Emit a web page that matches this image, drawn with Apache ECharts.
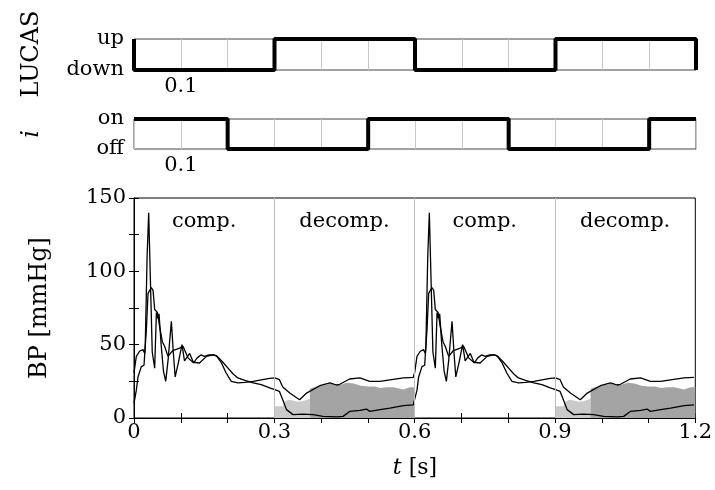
<!DOCTYPE html>
<html>
<head>
<meta charset="utf-8">
<script src="https://cdn.jsdelivr.net/npm/echarts@6/dist/echarts.min.js"></script>
<style>
  html, body { margin: 0; padding: 0; background: #fff; }
  #main { width: 715px; height: 490px; }
</style>
</head>
<body>
<div id="main"></div>
<script>
// LUCAS piston state (1 = up, 0 = down), drawn as a step line
var lucasT = [0, 0, 0.3, 0.6, 0.9, 1.2];
var lucasS = [1, 0, 1, 0, 1, 0];

// current i (1 = on, 0 = off)
var curT = [0, 0.2, 0.5, 0.8, 1.1, 1.2];
var curS = [1, 0, 1, 0, 1, 1];

// the BP record shows the same 0.6 s cycle twice
var cycleStarts = [0, 0.6];

// trace with the big spike (goes near 0 in decompression)
var traceAT = [0, 0.005, 0.0085, 0.0157, 0.0214, 0.024, 0.028, 0.0314, 0.035, 0.039, 0.0442, 0.0479, 0.051, 0.0535, 0.058, 0.063, 0.0678, 0.073, 0.0799, 0.084, 0.088, 0.095, 0.1025, 0.108, 0.119, 0.1275, 0.135, 0.143, 0.151, 0.16, 0.17, 0.178, 0.19, 0.201, 0.212, 0.222, 0.237, 0.255, 0.272, 0.29, 0.301, 0.311, 0.318, 0.326, 0.34, 0.361, 0.383, 0.404, 0.433, 0.447, 0.461, 0.483, 0.497, 0.504, 0.526, 0.547, 0.576, 0.597];
var traceAV = [10, 19, 28, 35, 36, 49, 110, 140, 95, 45, 34, 72, 68, 71, 50, 32, 25, 40, 66, 45, 28, 38, 50, 39, 44, 37.5, 41, 43, 42, 43, 43, 42, 38, 34, 30, 27.3, 25.6, 24, 22.7, 20.5, 19.3, 18.1, 12.5, 5.7, 2.3, 2.6, 2.3, 1.1, 0.7, 1.1, 4.5, 5.2, 6.1, 4.5, 5.7, 6.8, 8.4, 9];

// smoother trace (stays higher in decompression)
var traceBT = [0, 0.005, 0.012, 0.019, 0.023, 0.0264, 0.030, 0.037, 0.0407, 0.0442, 0.05, 0.055, 0.0606, 0.0656, 0.0727, 0.083, 0.0977, 0.1047, 0.1155, 0.126, 0.140, 0.155, 0.169, 0.176, 0.187, 0.197, 0.208, 0.222, 0.237, 0.255, 0.272, 0.29, 0.301, 0.311, 0.318, 0.333, 0.354, 0.369, 0.397, 0.419, 0.433, 0.44, 0.461, 0.483, 0.504, 0.526, 0.547, 0.576, 0.597];
var traceBV = [31, 42, 45.5, 46.6, 44, 60, 85, 89, 87, 74, 72, 62, 52, 48.8, 42, 46, 47.7, 49, 41, 38, 37.5, 42, 43, 42.5, 37.5, 30.7, 25, 23.9, 24.3, 25, 26, 27, 27.3, 26.1, 21.1, 17, 12.5, 17, 22, 23.9, 22.5, 23, 26.6, 27.3, 25, 25, 26, 27.3, 27.7];

// grey bands in the decompression phase
var lightT = [0.3, 0.318, 0.322, 0.33, 0.34, 0.35, 0.36, 0.37, 0.376];
var lightV = [8, 8, 11, 12.5, 12, 11, 11.5, 12.5, 13];
var darkT = [0.376, 0.385, 0.397, 0.41, 0.42, 0.433, 0.44, 0.455, 0.47, 0.485, 0.5, 0.515, 0.526, 0.54, 0.555, 0.576, 0.59, 0.6];
var darkV = [20, 21, 22, 22.5, 23.5, 23, 22.5, 24, 23.5, 22, 21.5, 21.5, 20.5, 21, 21, 19.5, 21, 21];

// phase separators and phase names
var phaseBounds = [0.3, 0.6, 0.9];
var phaseNames = ['comp.', 'decomp.', 'comp.', 'decomp.'];
var phaseMid = [0.15, 0.45, 0.75, 1.05];
var phaseLabelY = 134;

var FONT = 'DejaVu Serif';

function pairs(ts, vs, off) {
    var out = [];
    for (var i = 0; i < ts.length; i++) out.push([+(ts[i] + (off || 0)).toFixed(4), vs[i]]);
    return out;
}

function repeated(ts, vs) {
    var out = [];
    cycleStarts.forEach(function (c) { out = out.concat(pairs(ts, vs, c)); });
    return out;
}

var chart = echarts.init(document.getElementById('main'));

var tickLabel = { fontFamily: FONT, fontSize: 21, color: '#000' };

function stripAxisX(idx) {
    return {
        gridIndex: idx, type: 'value', min: 0, max: 1.2, interval: 0.1,
        axisLine: { show: false }, axisTick: { show: false },
        splitLine: { show: true, lineStyle: { color: '#c8c8c8', width: 1 } },
        axisLabel: Object.assign({ margin: 6, formatter: function (v) {
            return Math.abs(v - 0.1) < 1e-6 ? '0.1' : '';
        } }, tickLabel)
    };
}

function stripAxisY(idx, hi, lo) {
    return {
        gridIndex: idx, type: 'value', min: 0, max: 1, interval: 1,
        axisLine: { show: false }, axisTick: { show: false }, splitLine: { show: false },
        axisLabel: Object.assign({ margin: 10, formatter: function (v) {
            return v === 1 ? hi : lo;
        } }, tickLabel)
    };
}

var series = [];

series.push({
    type: 'line', xAxisIndex: 0, yAxisIndex: 0, step: 'end', clip: false,
    symbol: 'none', data: pairs(lucasT, lucasS),
    lineStyle: { color: '#000', width: 4 }, z: 5
});
series.push({
    type: 'line', xAxisIndex: 1, yAxisIndex: 1, step: 'end', clip: false,
    symbol: 'none', data: pairs(curT, curS),
    lineStyle: { color: '#000', width: 4 }, z: 5
});

cycleStarts.forEach(function (c, k) {
    series.push({
        type: 'line', xAxisIndex: 2, yAxisIndex: 2, symbol: 'none',
        data: pairs(lightT, lightV, c),
        lineStyle: { width: 0, opacity: 0 },
        areaStyle: { color: '#cacaca', opacity: 1 }, z: 2,
        markLine: k === 0 ? {
            silent: true, symbol: 'none', label: { show: false },
            lineStyle: { color: '#bdbdbd', width: 1, type: 'solid' },
            data: phaseBounds.map(function (b) { return { xAxis: b }; })
        } : undefined
    });
    series.push({
        type: 'line', xAxisIndex: 2, yAxisIndex: 2, symbol: 'none',
        data: pairs(darkT, darkV, c),
        lineStyle: { width: 0, opacity: 0 },
        areaStyle: { color: '#a4a4a4', opacity: 1 }, z: 2
    });
});

series.push({
    type: 'line', xAxisIndex: 2, yAxisIndex: 2, symbol: 'none',
    data: repeated(traceBT, traceBV),
    lineStyle: { color: '#000', width: 1.3 }, z: 4
});
series.push({
    type: 'line', xAxisIndex: 2, yAxisIndex: 2, symbol: 'none',
    data: repeated(traceAT, traceAV),
    lineStyle: { color: '#000', width: 1.3 }, z: 4
});

series.push({
    type: 'scatter', xAxisIndex: 2, yAxisIndex: 2, symbolSize: 0, silent: true,
    itemStyle: { opacity: 1 },
    data: phaseMid.map(function (m, i) { return [m, phaseLabelY, phaseNames[i]]; }),
    label: {
        show: true, position: 'inside', color: '#000', textBorderWidth: 0, opacity: 1,
        fontFamily: FONT, fontSize: 21,
        formatter: function (p) { return p.data[2]; }
    }, z: 6
});

var option = {
    animation: false,
    backgroundColor: '#fff',
    grid: [
        { left: 134, right: 19, top: 39, height: 31, show: true, borderColor: '#444', borderWidth: 1 },
        { left: 134, right: 19, top: 119, height: 30, show: true, borderColor: '#444', borderWidth: 1 },
        { left: 134, right: 19, top: 198, height: 220, show: true, borderColor: '#000', borderWidth: 1 }
    ],
    xAxis: [
        stripAxisX(0),
        stripAxisX(1),
        {
            gridIndex: 2, type: 'value', min: 0, max: 1.2, interval: 0.1, position: 'bottom',
            axisLine: { show: true, lineStyle: { color: '#000' } },
            axisTick: { show: true, inside: true, length: 5, lineStyle: { color: '#000' } },
            splitLine: { show: false },
            axisLabel: Object.assign({ margin: 4, formatter: function (v) {
                var k = Math.round(v * 10);
                if (k % 3) return '';
                return k === 0 ? '0' : (k / 10).toFixed(1);
            } }, tickLabel)
        },
        {
            gridIndex: 2, type: 'value', min: 0, max: 1.2, interval: 0.1, position: 'top',
            axisLine: { show: true, lineStyle: { color: '#000' } },
            axisTick: { show: true, inside: true, length: 5, lineStyle: { color: '#000' } },
            splitLine: { show: false }, axisLabel: { show: false }
        }
    ],
    yAxis: [
        stripAxisY(0, 'up', 'down'),
        stripAxisY(1, 'on', 'off'),
        {
            gridIndex: 2, type: 'value', min: 0, max: 150, interval: 25, position: 'left',
            axisLine: { show: true, lineStyle: { color: '#000' } },
            axisTick: { show: true, inside: true, length: 5, lineStyle: { color: '#000' } },
            splitLine: { show: false },
            axisLabel: Object.assign({ margin: 8, formatter: function (v) {
                return v % 50 === 0 ? String(v) : '';
            } }, tickLabel)
        },
        {
            gridIndex: 2, type: 'value', min: 0, max: 150, interval: 25, position: 'right',
            axisLine: { show: true, lineStyle: { color: '#000' } },
            axisTick: { show: true, inside: true, length: 5, lineStyle: { color: '#000' } },
            splitLine: { show: false }, axisLabel: { show: false }
        }
    ],
    graphic: [
        { type: 'text', x: 32, y: 54, rotation: Math.PI / 2,
          style: { text: 'LUCAS', fontFamily: FONT, fontSize: 24, fill: '#000', align: 'center', verticalAlign: 'middle' } },
        { type: 'text', x: 32, y: 134, rotation: Math.PI / 2,
          style: { text: 'i', fontFamily: FONT, fontStyle: 'italic', fontSize: 24, fill: '#000', align: 'center', verticalAlign: 'middle' } },
        { type: 'text', x: 40, y: 308, rotation: Math.PI / 2,
          style: { text: 'BP [mmHg]', fontFamily: FONT, fontSize: 24, fill: '#000', align: 'center', verticalAlign: 'middle' } },
        { type: 'text', x: 415, y: 468,
          style: { text: '{it|t} [s]', fontFamily: FONT, fontSize: 22, fill: '#000', align: 'center', verticalAlign: 'middle',
                   rich: { it: { fontFamily: FONT, fontStyle: 'italic', fontSize: 22 } } } }
    ],
    series: series
};

chart.setOption(option);
</script>
</body>
</html>
